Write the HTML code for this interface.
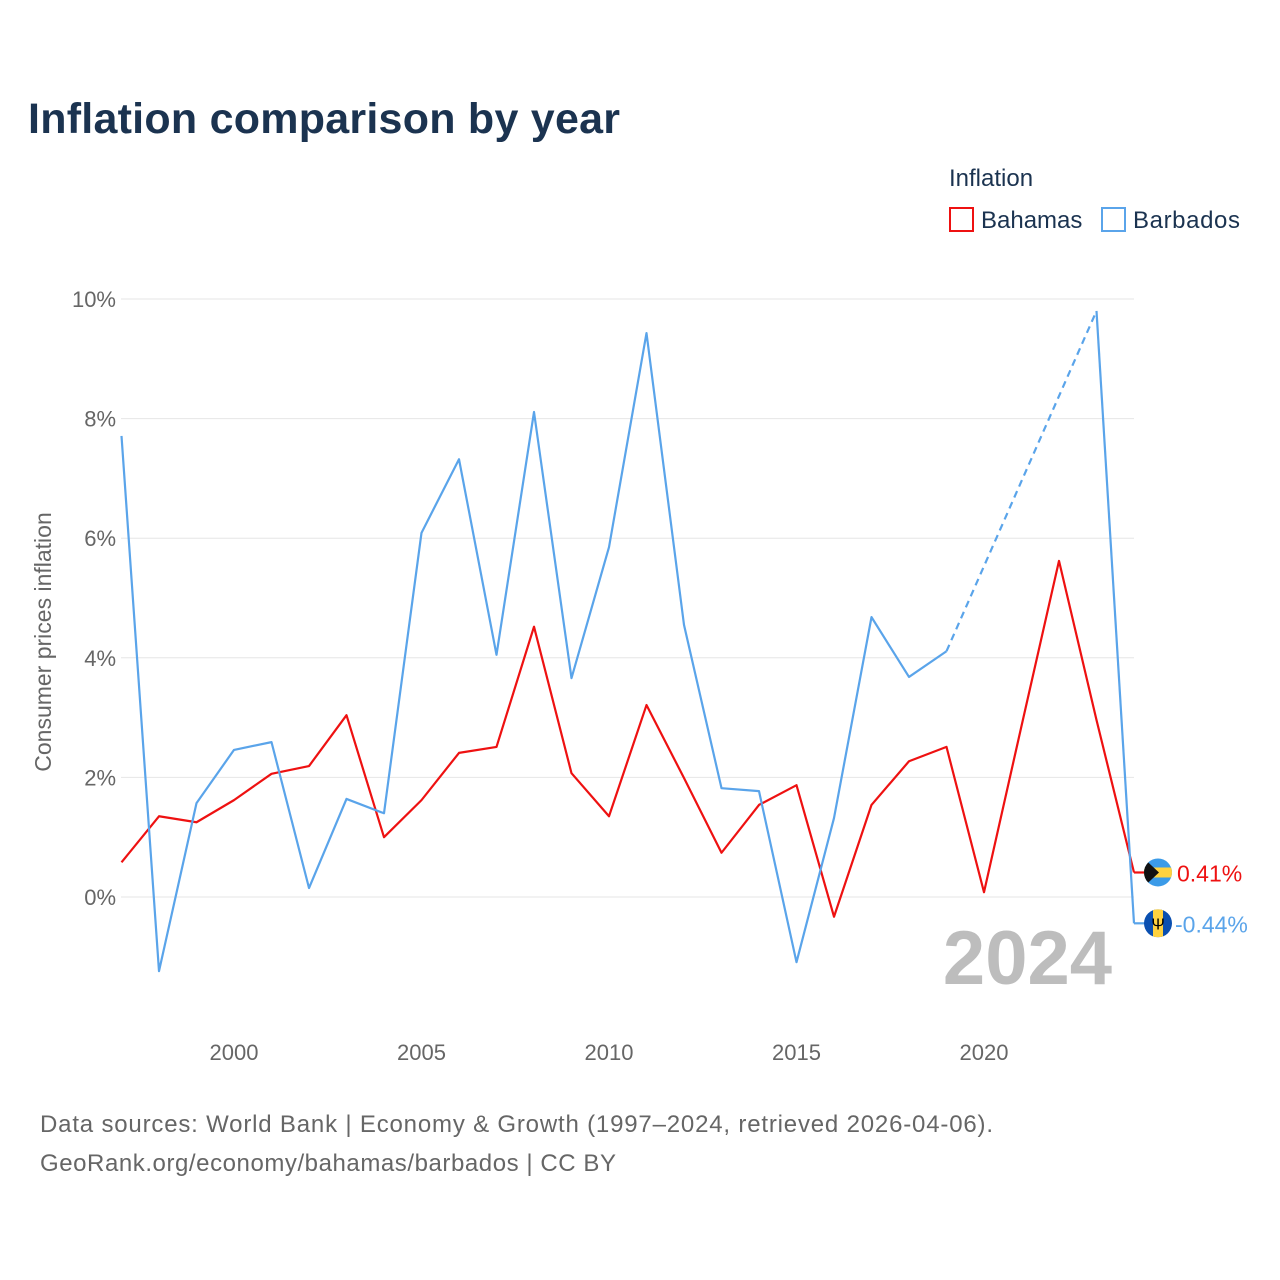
<!DOCTYPE html>
<html><head><meta charset="utf-8">
<style>
body{margin:0;background:#fff;font-family:"Liberation Sans",sans-serif;}
#wrap{position:relative;width:1280px;height:1280px;overflow:hidden;}
</style></head>
<body>
<div id="wrap">
<svg id="chart" width="1280" height="1280">
<text x="28" y="133" font-size="43" font-weight="bold" fill="#1b3350" textLength="592">Inflation comparison by year</text>
<text x="949" y="186" font-size="24" fill="#1b3350">Inflation</text>
<g>
<rect x="950" y="208" width="23" height="23" fill="none" stroke="#ee1111" stroke-width="2"/>
<text x="981" y="228" font-size="24" fill="#1b3350">Bahamas</text>
</g>
<g>
<rect x="1102" y="208" width="23" height="23" fill="none" stroke="#5aa4ea" stroke-width="2"/>
<text x="1133" y="228" font-size="24" fill="#1b3350" textLength="107">Barbados</text>
</g>
<text transform="translate(51,642) rotate(-90)" text-anchor="middle" font-size="23" fill="#666">Consumer prices inflation</text>
<text x="1112" y="984" text-anchor="end" font-size="76" font-weight="bold" fill="#bdbdbd">2024</text>
<g id="grid"></g><g id="series"></g>
<text x="40" y="1132" font-size="24" fill="#666" textLength="953">Data sources: World Bank | Economy &amp; Growth (1997–2024, retrieved 2026-04-06).</text>
<text x="40" y="1171" font-size="24" fill="#666" textLength="576">GeoRank.org/economy/bahamas/barbados | CC BY</text>
</svg>
</div>
<script>
const years=[1997,1998,1999,2000,2001,2002,2003,2004,2005,2006,2007,2008,2009,2010,2011,2012,2013,2014,2015,2016,2017,2018,2019,2020,2021,2022,2023,2024];
const bahamas=[0.58,1.35,1.25,1.62,2.06,2.19,3.04,1.0,1.62,2.41,2.51,4.52,2.07,1.35,3.21,1.99,0.74,1.54,1.87,-0.33,1.54,2.27,2.51,0.08,2.86,5.62,2.96,0.41];
const barbados=[7.71,-1.24,1.57,2.46,2.59,0.15,1.64,1.40,6.09,7.32,4.05,8.11,3.66,5.85,9.43,4.55,1.82,1.77,-1.09,1.32,4.68,3.68,4.11,null,null,null,9.8,-0.44];
const yTicks=[0,2,4,6,8,10];
const xTicks=[2000,2005,2010,2015,2020];
const NS="http://www.w3.org/2000/svg";
const xs=y=>121.5+(y-1997)*37.5;
const ys=v=>897-v*59.8;
function mk(t,a,p){const e=document.createElementNS(NS,t);for(const k in a)e.setAttribute(k,a[k]);p.appendChild(e);return e;}
const grid=document.getElementById('grid'),ser=document.getElementById('series');
yTicks.forEach(v=>{
 const l=mk('line',{x1:121,x2:1134,y1:ys(v),y2:ys(v),stroke:'#e6e6e6','stroke-width':1},grid);
 
 
 const t=mk('text',{x:116,y:ys(v)+8,'text-anchor':'end','font-size':22,fill:'#666'},grid);
 t.textContent=v+'%';
 
 
});
xTicks.forEach(v=>{
 const t=mk('text',{x:xs(v),y:1060,'text-anchor':'middle','font-size':22,fill:'#666'},grid);
 t.textContent=v;
 
 
});
function segs(vals){const out=[];let cur=[];vals.forEach((v,i)=>{if(v===null){if(cur.length)out.push(cur);cur=[];}else cur.push([xs(years[i]),ys(v)]);});if(cur.length)out.push(cur);return out;}
function draw(vals,color,name){
 const s=segs(vals);
 s.forEach(pts=>{
  const p=mk('polyline',{points:pts.map(q=>q.join(',')).join(' '),fill:'none',stroke:color,'stroke-width':2.2,'stroke-linejoin':'round'},ser);
  
  
 });
 for(let i=0;i<s.length-1;i++){
  const a=s[i][s[i].length-1],b=s[i+1][0];
  const d=mk('line',{x1:a[0],y1:a[1],x2:b[0],y2:b[1],stroke:color,'stroke-width':2.2,'stroke-dasharray':'7,5'},ser);
  
  
 }
 const last=vals[vals.length-1],lx=xs(years[years.length-1]),ly=ys(last);
 const h=mk('line',{x1:lx,y1:ly,x2:1146,y2:ly,stroke:color,'stroke-width':2.2},ser);
 
 
 return [ly,last];
}
const [ry,rv]=draw(bahamas,'#ee1111','bahamas');
const [by,bv]=draw(barbados,'#5aa4ea','barbados');
function flag(cy,name,kind){
 const g=mk('g',{},ser);
 
 
 const cid='c'+name;
 const cp=mk('clipPath',{id:cid},g);mk('circle',{cx:1158,cy:cy,r:14},cp);
 const inner=mk('g',{'clip-path':'url(#'+cid+')'},g);
 if(kind==='bs'){
  mk('rect',{x:1144,y:cy-14,width:28,height:28,fill:'#3b9be8'},inner);
  mk('rect',{x:1144,y:cy-5,width:28,height:10,fill:'#ffd23f'},inner);
  mk('polygon',{points:`1144,${cy-14} 1159,${cy} 1144,${cy+14}`,fill:'#111'},inner);
 }else{
  mk('rect',{x:1144,y:cy-14,width:28,height:28,fill:'#0a4fb0'},inner);
  mk('rect',{x:1153,y:cy-14,width:10,height:28,fill:'#ffd23f'},inner);
  const t=mk('text',{x:1158,y:cy+6,'text-anchor':'middle','font-size':16,fill:'#000'},inner);t.textContent='Ψ';
 }
}
flag(ry,'bahamas','bs');flag(by,'barbados','bb');
const l1=mk('text',{x:1177,y:ry+9,'font-size':23,fill:'#ee1111'},ser);
l1.textContent=rv.toFixed(2)+'%';


const l2=mk('text',{x:1175,y:by+9,'font-size':23,fill:'#5aa4ea'},ser);
l2.textContent=bv.toFixed(2)+'%';


</script>
</body></html>
